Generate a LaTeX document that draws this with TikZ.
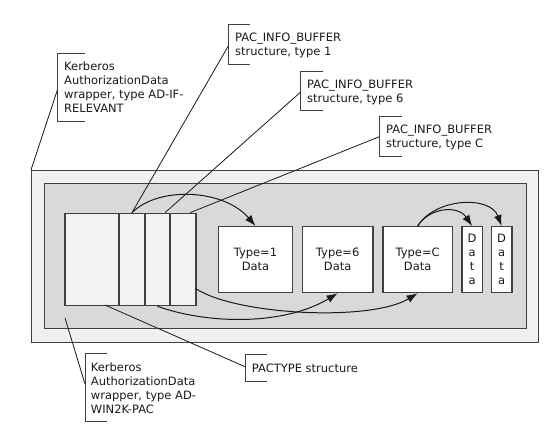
\documentclass[tikz,border=0pt]{standalone}
\usepackage{fontspec}
\setmainfont{DejaVu Sans}
\usetikzlibrary{arrows.meta,calc}
\definecolor{outerfill}{HTML}{F0F0F0}
\definecolor{innerfill}{HTML}{D9D9D9}
\definecolor{cellfill}{HTML}{F2F2F2}
\definecolor{edge}{HTML}{404040}
\definecolor{ink}{HTML}{1A1A1A}
\begin{document}
\begin{tikzpicture}[x=1pt,y=-1pt,
  box/.style={draw=edge, line width=1.3pt, inner sep=0pt, anchor=north west},
  inbox/.style={box, fill=white, minimum height=66pt, align=center, text=ink, font=\fontsize{11.5}{14}\selectfont},
  cellbox/.style={box, fill=cellfill, minimum height=92.3pt},
  lbl/.style={anchor=west, align=left, inner sep=0pt, text depth=0pt, font=\fontsize{11.5}{14}\selectfont, text=ink},
  brk/.style={draw=edge, line width=0.9pt},
  call/.style={draw=ink, line width=0.8pt},
  arr/.style={draw=ink, line width=1pt, -{Latex[length=11pt,width=8pt]}}
]
\useasboundingbox (0,0) rectangle (560,445);
\fill[white] (0,0) rectangle (560,445);
% frames
\node[box, fill=outerfill, minimum width=507pt, minimum height=172pt] (outer) at (31,170) {};
\node[box, fill=innerfill, minimum width=482pt, minimum height=145pt] (inner) at (44,182.7) {};
% PACTYPE structure cells
\node[cellbox, minimum width=54pt] (hdr) at (64.3,212.7) {};
\node[cellbox, minimum width=26pt] (cell2) at (118.3,212.7) {};
\node[cellbox, minimum width=25pt] (cell3) at (144.3,212.7) {};
\node[cellbox, minimum width=26pt] (cell4) at (169.3,212.7) {};
% data boxes
\node[inbox, minimum width=74.3pt] (t1) at (217.7,226) {Type=1\\Data};
\node[inbox, minimum width=70.6pt] (t6) at (301.7,226) {Type=6\\Data};
\node[inbox, minimum width=69.4pt] (tC) at (382.3,226) {Type=C\\Data};
\node[inbox, minimum width=20.4pt] (d1) at (461.3,226) {D\\a\\t\\a};
\node[inbox, minimum width=20.4pt] (d2) at (490.8,226) {D\\a\\t\\a};
% labels with brackets
\draw[brk] (85,53.3) -- (57.7,53.3) -- (57.7,121) -- (85,121);
\coordinate (brelev) at (57.7,89);
\node[lbl] (lrelev) at (64,87.5) {Kerberos\\AuthorizationData\\wrapper, type AD-IF-\\RELEVANT};
\draw[brk] (250,24.3) -- (228.3,24.3) -- (228.3,64.3) -- (250,64.3);
\coordinate (b1) at (228.3,46);
\node[lbl] (l1) at (235,44.6) {PAC\_INFO\_BUFFER\\structure, type 1};
\draw[brk] (322.7,71) -- (300.7,71) -- (300.7,110) -- (322.7,110);
\coordinate (b6) at (300.7,92);
\node[lbl] (l6) at (307,90.8) {PAC\_INFO\_BUFFER\\structure, type 6};
\draw[brk] (401.7,116.7) -- (379.3,116.7) -- (379.3,156.7) -- (401.7,156.7);
\coordinate (bC) at (379.3,136.7);
\node[lbl] (lC) at (386,136.5) {PAC\_INFO\_BUFFER\\structure, type C};
\draw[brk] (106.7,353.3) -- (85,353.3) -- (85,421.7) -- (106.7,421.7);
\coordinate (bw) at (85,384);
\node[lbl] (lw) at (90.7,387.7) {Kerberos\\AuthorizationData\\wrapper, type AD-\\WIN2K-PAC};
\draw[brk] (266.7,354.3) -- (245,354.3) -- (245,381) -- (266.7,381);
\coordinate (bp) at (245,366.7);
\node[lbl] (lp) at (251.7,368.5) {PACTYPE structure};
% callout lines
\coordinate (c3t) at (165,212.7);
\coordinate (c4t) at (190,212.7);
\coordinate (win) at (65,318);
\coordinate (hb) at (105,305);
\coordinate (c4e) at (195.3,288.3);
\draw[call] (brelev) -- (outer.north west);
\draw[call] (b1) -- (cell2.north);
\draw[call] (b6) -- (c3t);
\draw[call] (bC) -- (c4t);
\draw[call] (bw) -- (win);
\draw[call] (bp) -- (hb);
% arrows
\draw[arr] (cell2.north) .. controls (160,185) and (225,190) .. (t1.north);
\draw[arr] (cell3.south) .. controls (210,325) and (285,325) .. (t6.south);
\draw[arr] (c4e) .. controls (235,315) and (370,322) .. (tC.south);
\draw[arr] (tC.north) .. controls (430,207) and (458,205) .. (d1.north);
\draw[arr] (tC.north) .. controls (435,198) and (490,195) .. (d2.north);
\end{tikzpicture}
\end{document}
